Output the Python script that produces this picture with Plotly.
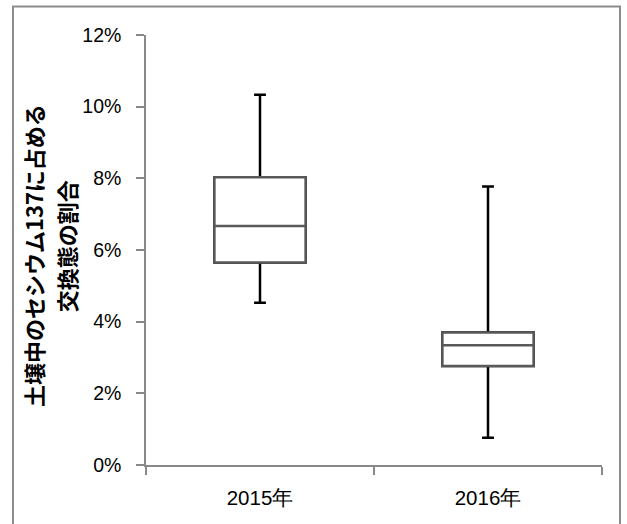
import plotly.graph_objects as go

categories = ["2015年", "2016年"]
lower_whisker = [0.0453, 0.0076]
q1_values = [0.0565, 0.0276]
median_values = [0.0667, 0.0334]
q3_values = [0.0803, 0.0370]
upper_whisker = [0.1033, 0.0777]
y_ticks = [0, 0.02, 0.04, 0.06, 0.08, 0.10, 0.12]
title_line1 = "土壌中のセシウム137に占める"
title_line2 = "交換態の割合"

fig = go.Figure()

# whiskers (black)
fig.add_trace(go.Box(
    x=categories, q1=q1_values, median=median_values, q3=q3_values,
    lowerfence=lower_whisker, upperfence=upper_whisker,
    line=dict(color="#000000", width=2.5), fillcolor="#ffffff",
    whiskerwidth=0.13, boxpoints=False, hoverinfo="skip", showlegend=False,
))
# box (gray outline)
fig.add_trace(go.Box(
    x=categories, q1=q1_values, median=median_values, q3=q3_values,
    lowerfence=q1_values, upperfence=q3_values,
    line=dict(color="#595959", width=2.5), fillcolor="#ffffff",
    whiskerwidth=0, boxpoints=False, showlegend=False,
))

axis_color = "#898989"
fig.update_layout(
    width=627, height=524,
    margin=dict(l=146, r=25, t=35, b=59),
    paper_bgcolor="#ffffff", plot_bgcolor="#ffffff",
    boxmode="overlay", boxgap=0.6, boxgroupgap=0,
    font=dict(family="Liberation Sans, Arial, sans-serif", size=18, color="#000000"),
    xaxis=dict(
        type="category", range=[-0.5, 1.5], showline=True, linecolor=axis_color, linewidth=1.5,
        ticks="outside", tickson="boundaries", ticklen=8, tickcolor=axis_color, tickwidth=1.5,
        showgrid=False, zeroline=False, tickfont=dict(size=20.5), ticklabelstandoff=14,
    ),
    yaxis=dict(
        range=[0, 0.12], tickvals=y_ticks, tickformat=".0%", showline=True,
        linecolor=axis_color, linewidth=1.5, ticks="outside", ticklen=8,
        tickcolor=axis_color, tickwidth=1.5, showgrid=False, zeroline=False,
        tickfont=dict(size=19.5), ticklabelstandoff=11,
    ),
    annotations=[
        dict(text=title_line1, xref="paper", yref="paper", x=-0.248, y=0.488,
             textangle=-90, showarrow=False, xanchor="center", yanchor="middle",
             font=dict(family="Noto Sans CJK JP", size=22, color="#000000", weight="bold")),
        dict(text=title_line2, xref="paper", yref="paper", x=-0.175, y=0.509,
             textangle=-90, showarrow=False, xanchor="center", yanchor="middle",
             font=dict(family="Noto Sans CJK JP", size=22, color="#000000", weight="bold")),
    ],
    shapes=[
        dict(type="rect", xref="paper", yref="paper", x0=-0.2917, x1=1.0395,
             y0=-0.16, y1=1.0663, line=dict(color="#8c8c8c", width=2),
             fillcolor="rgba(0,0,0,0)", layer="below"),
    ],
)

fig.write_html("out.html", config={"displayModeBar": False},
               post_script="document.body.style.margin='0px';document.body.style.padding='0px';")
